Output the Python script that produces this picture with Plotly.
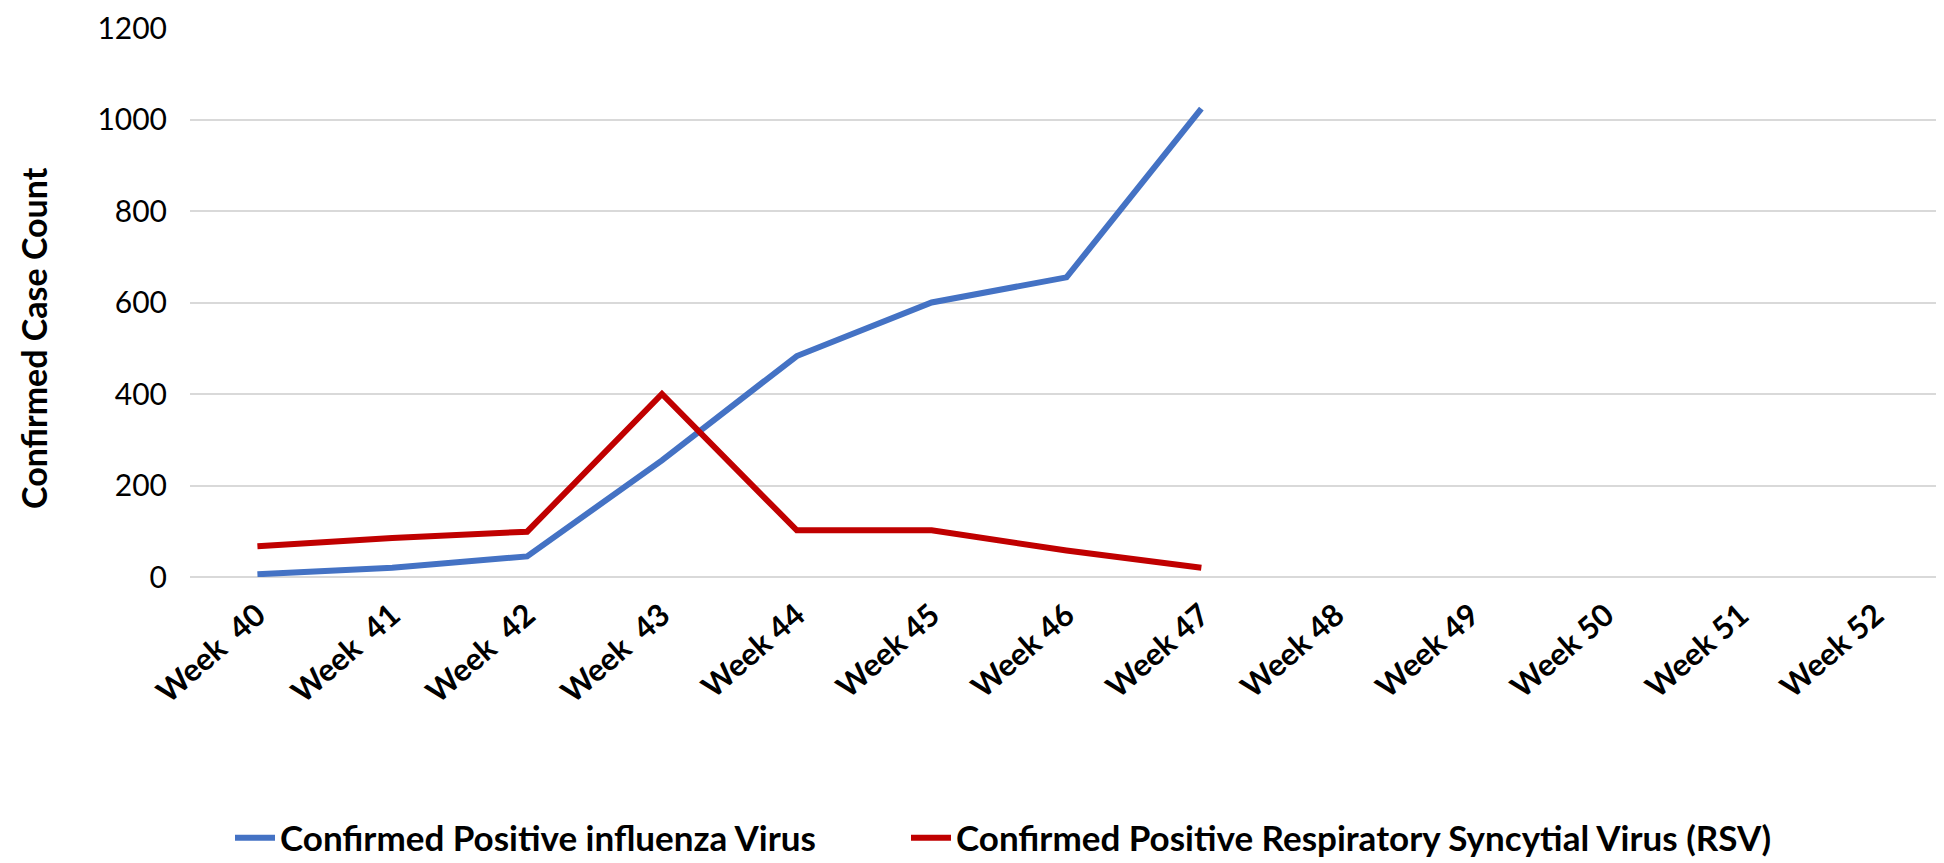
import plotly.graph_objects as go

weeks = ["Week\u00a0 40", "Week\u00a0 41", "Week\u00a0 42", "Week\u00a0 43", "Week 44", "Week 45",
         "Week 46", "Week 47", "Week 48", "Week 49", "Week 50", "Week 51", "Week 52"]
influenza = [6, 20, 45, 255, 483, 600, 655, 1024]
rsv = [67, 85, 99, 400, 102, 102, 58, 20]

FONT = "Lato"
W, H = 1944, 863
L, R, T, B = 182, 9, 20, 294
PW = W - L - R
PH = H - T - B

fig = go.Figure()
fig.add_trace(go.Scatter(x=weeks[:len(influenza)], y=influenza, mode="lines",
                         name="Confirmed Positive influenza Virus",
                         line=dict(color="#4472C4", width=6), legend="legend"))
fig.add_trace(go.Scatter(x=weeks[:len(rsv)], y=rsv, mode="lines",
                         name="Confirmed Positive Respiratory Syncytial Virus (RSV)",
                         line=dict(color="#C00000", width=6), legend="legend2"))

legfont = dict(family=FONT, size=35, color="black", weight="bold")
fig.update_layout(
    width=W, height=H,
    margin=dict(l=L, r=R, t=T, b=B, autoexpand=False),
    paper_bgcolor="white", plot_bgcolor="white",
    font=dict(family=FONT, color="black"),
    showlegend=True,
    legend=dict(orientation="h", xref="container", yref="container",
                x=222 / W, xanchor="left", y=33 / H, yanchor="middle",
                font=legfont, itemwidth=40),
    legend2=dict(orientation="h", xref="container", yref="container",
                 x=898 / W, xanchor="left", y=33 / H, yanchor="middle",
                 font=legfont, itemwidth=40),
)
fig.update_xaxes(type="category", categoryorder="array", categoryarray=weeks,
                 tickvals=weeks, ticktext=weeks,
                 range=[-0.5, len(weeks) - 0.5], showgrid=False, zeroline=False,
                 showline=False, tickangle=-41, ticks="", ticklabelstandoff=13,
                 tickfont=dict(family=FONT, size=31, color="black", weight="bold"))
fig.update_yaxes(range=[0, 1200], tickvals=[0, 200, 400, 600, 800, 1000, 1200],
                 showgrid=True, gridcolor="#D9D9D9", gridwidth=1.5,
                 zeroline=True, zerolinecolor="#D9D9D9", zerolinewidth=1.5,
                 showline=False, ticks="", ticklabelstandoff=22,
                 ticklabeloverflow="allow",
                 tickfont=dict(family=FONT, size=30, color="black"))

fig.add_annotation(text="Confirmed Case Count", textangle=-90,
                   xref="paper", yref="paper",
                   x=(25 - L) / PW, y=(H - B - 330) / PH,
                   xanchor="center", yanchor="middle", showarrow=False,
                   font=dict(family=FONT, size=34, color="black", weight="bold"))

fig.write_html("out.html")
